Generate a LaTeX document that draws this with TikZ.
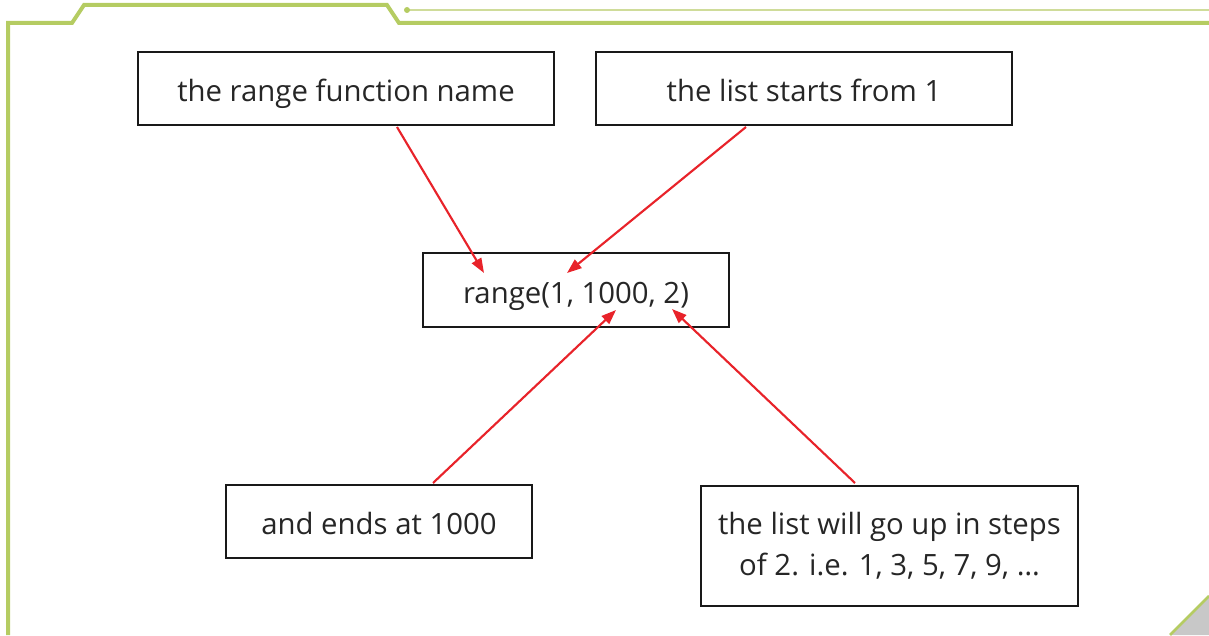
\documentclass[tikz,border=0pt]{standalone}
\usepackage{fontspec}
\setmainfont{Open Sans}
\usetikzlibrary{arrows.meta}
\definecolor{frame}{HTML}{B5CC62}
\definecolor{framelight}{HTML}{CFDC9A}
\definecolor{arrred}{HTML}{E8232A}
\definecolor{cornergray}{HTML}{C8C8C8}
\tikzset{
  box/.style={draw=black!90, line width=1.6pt, inner sep=0pt, font=\fontsize{22}{30.75}\selectfont, align=center, text=black!85},
  one/.style={text height=20pt, text depth=0pt},
  arr/.style={draw=arrred, line width=1.6pt, -{Triangle[length=11pt,width=8pt]}},
}
\begin{document}
\begin{tikzpicture}[x=0.75pt,y=-0.75pt]
\useasboundingbox (0,0) rectangle (1209,635);
% frame
\draw[frame, line width=3pt] (8,635) -- (8,23) -- (72,23) -- (84,5) -- (387,5) -- (399,23) -- (1209,23);
\draw[framelight, line width=1.3pt] (407,10) -- (1209,10);
\fill[frame] (407,10) circle (3);
\fill[cornergray] (1170,635) -- (1209,596) -- (1209,635) -- cycle;
\draw[frame, line width=2pt] (1170,635) -- (1209,596);
% boxes
\node[box, one, minimum width=312pt, minimum height=54.75pt] (name) at (346,88.5) {the range function name};
\node[box, one, minimum width=312pt, minimum height=54.75pt] (start) at (804,88.5) {the list starts from 1};
\node[box, one, minimum width=229.5pt, minimum height=55.5pt] (range) at (576,290) {range(1, 1000, 2)};
\node[box, one, minimum width=229.5pt, minimum height=54.75pt] (ends) at (379,521.5) {and ends at 1000};
\node[box, minimum width=282.75pt, minimum height=90pt] (steps) at (889.5,546) {the list will go up in steps\\of 2. i.e. 1, 3, 5, 7, 9, …};
% arrow anchors
\coordinate (a1) at (397,127);
\coordinate (a2) at (484,273);
\coordinate (b1) at (746,127);
\coordinate (b2) at (567,273);
\coordinate (c1) at (433,483);
\coordinate (c2) at (616,310);
\coordinate (d1) at (855,483);
\coordinate (d2) at (672,309);
\draw[arr] (a1) -- (a2);
\draw[arr] (b1) -- (b2);
\draw[arr] (c1) -- (c2);
\draw[arr] (d1) -- (d2);
\end{tikzpicture}
\end{document}
